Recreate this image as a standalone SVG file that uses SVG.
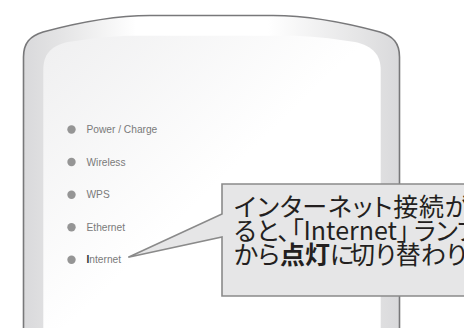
<svg xmlns="http://www.w3.org/2000/svg" width="464" height="328" viewBox="0 0 464 328">
  <style>
    .led { fill: #959595; }
    .lbl { font-family: "Liberation Sans", Arial, sans-serif; font-size: 10.2px; fill: #7a7a7a; }
    .call { font-family: "Noto Sans CJK JP", "Noto Sans", sans-serif; font-size: 25px; fill: #231f20; font-feature-settings: "palt"; }
    .b { font-weight: bold; }
  </style>
  <defs>
    <linearGradient id="outerG" x1="23" y1="0" x2="400" y2="0" gradientUnits="userSpaceOnUse">
      <stop offset="0" stop-color="#d9d9db"/>
      <stop offset="0.1" stop-color="#e4e4e5"/>
      <stop offset="0.3" stop-color="#ffffff"/>
      <stop offset="0.65" stop-color="#ffffff"/>
      <stop offset="0.9" stop-color="#e4e4e5"/>
      <stop offset="1" stop-color="#d9d9db"/>
    </linearGradient>
    <linearGradient id="innerG" x1="43" y1="36" x2="200" y2="200" gradientUnits="userSpaceOnUse">
      <stop offset="0" stop-color="#efeff0"/>
      <stop offset="1" stop-color="#ffffff"/>
    </linearGradient>
  </defs>

  <g id="device">
    <path d="M23.5,340 L23.5,57 C23.5,43 30,36 43,32 C80,22 120,15.5 150,15.5 L273,15.5 C303,15.5 343,22 380,32 C393,36 399.5,43 399.5,57 L399.5,340 Z" fill="url(#outerG)" stroke="#78787a" stroke-width="1.6"/>
    <path d="M43.3,340 L43.3,70 C43.3,55 50,46 68,42 C92,38 115,35.7 135,35.7 L288,35.7 C308,35.7 331,38 355,42 C373,46 380.7,55 380.7,70 L380.7,340 Z" fill="url(#innerG)"/>
  </g>

  <g id="led-power">
    <circle class="led" cx="71.5" cy="129.5" r="4.2"/>
    <text class="lbl" x="86.5" y="133.2">Power / Charge</text>
  </g>
  <g id="led-wireless">
    <circle class="led" cx="71.5" cy="162" r="4.2"/>
    <text class="lbl" x="86.5" y="165.7">Wireless</text>
  </g>
  <g id="led-wps">
    <circle class="led" cx="71.5" cy="194.7" r="4.2"/>
    <text class="lbl" x="86.5" y="198.4">WPS</text>
  </g>
  <g id="led-ethernet">
    <circle class="led" cx="71.5" cy="227.3" r="4.2"/>
    <text class="lbl" x="86.5" y="231">Ethernet</text>
  </g>
  <g id="led-internet">
    <circle class="led" cx="71.5" cy="259.7" r="4.2"/>
    <text class="lbl" x="86.5" y="263.4"><tspan font-weight="bold" fill="#333">I</tspan>nternet</text>
  </g>

  <g id="callout">
    <path d="M222,184 H470 V296 H222 V237 L128.3,257.3 L222,214 Z" fill="#e6e6e7" stroke="#8a8a8a" stroke-width="1.6" stroke-linejoin="miter"/>
    <text class="call" x="234" y="216" letter-spacing="0.8">インターネット接続が</text>
    <text class="call" x="234" y="240">ると、<tspan x="291">「Internet」</tspan><tspan x="414">ランプ</tspan></text>
    <text class="call" x="234" y="264">から<tspan class="b">点灯</tspan>に<tspan x="350">切り替わりま</tspan></text>
  </g>
</svg>
